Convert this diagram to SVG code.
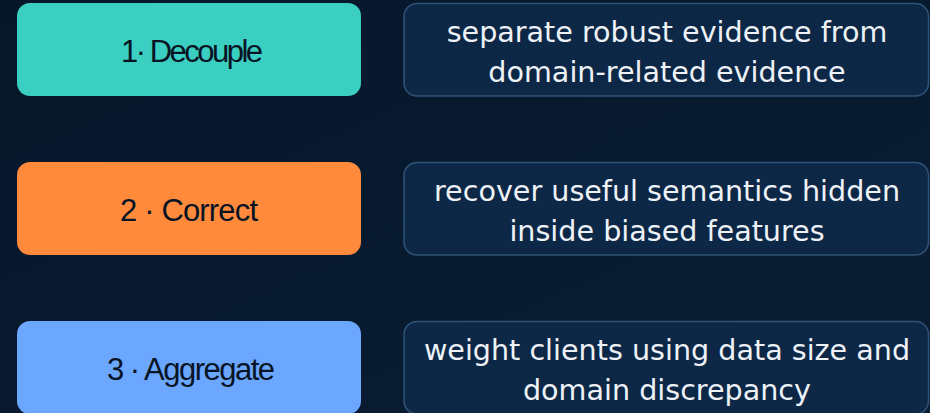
<svg xmlns="http://www.w3.org/2000/svg" width="930" height="413" viewBox="0 0 930 413">
  <defs>
    <linearGradient id="bg" x1="0" y1="0" x2="1" y2="1">
      <stop offset="0" stop-color="#06172a"/>
      <stop offset="1" stop-color="#0a1d33"/>
    </linearGradient>
    <style>
      .step { stroke: none; }
      .desc { fill: #0d2846; stroke: #2f5479; stroke-width: 1.5; }
      .lbl { font-family: "Liberation Sans", Arial, sans-serif; font-size: 31px; fill: #081424; text-anchor: middle; }
      .txt { font-family: "DejaVu Sans", Verdana, sans-serif; font-size: 28.6px; fill: #eef2f7; text-anchor: middle; }
    </style>
  </defs>
  <rect x="0" y="0" width="930" height="413" fill="url(#bg)"/>

  <g id="step1">
    <rect class="step" x="17" y="3" width="344" height="93" rx="13" fill="#3acfc1"/>
    <text class="lbl" x="192" y="62" textLength="142" lengthAdjust="spacing">1· Decouple</text>
  </g>
  <g id="desc1">
    <rect class="desc" x="404" y="3.5" width="524.5" height="92.5" rx="13"/>
    <text class="txt" x="667" y="42">separate robust evidence from</text>
    <text class="txt" x="667" y="82">domain-related evidence</text>
  </g>

  <g id="step2">
    <rect class="step" x="17" y="162" width="344" height="93" rx="13" fill="#ff8a3c"/>
    <text class="lbl" x="189" y="221" textLength="138" lengthAdjust="spacing">2 · Correct</text>
  </g>
  <g id="desc2">
    <rect class="desc" x="404" y="162.5" width="524.5" height="92.5" rx="13"/>
    <text class="txt" x="667" y="201">recover useful semantics hidden</text>
    <text class="txt" x="667" y="241">inside biased features</text>
  </g>

  <g id="step3">
    <rect class="step" x="17" y="321" width="344" height="93" rx="13" fill="#6ba6ff"/>
    <text class="lbl" x="191" y="380" textLength="168" lengthAdjust="spacing">3 · Aggregate</text>
  </g>
  <g id="desc3">
    <rect class="desc" x="404" y="321.5" width="524.5" height="92.5" rx="13"/>
    <text class="txt" x="667" y="360">weight clients using data size and</text>
    <text class="txt" x="667" y="400">domain discrepancy</text>
  </g>

  <g id="connectors"/>
</svg>
